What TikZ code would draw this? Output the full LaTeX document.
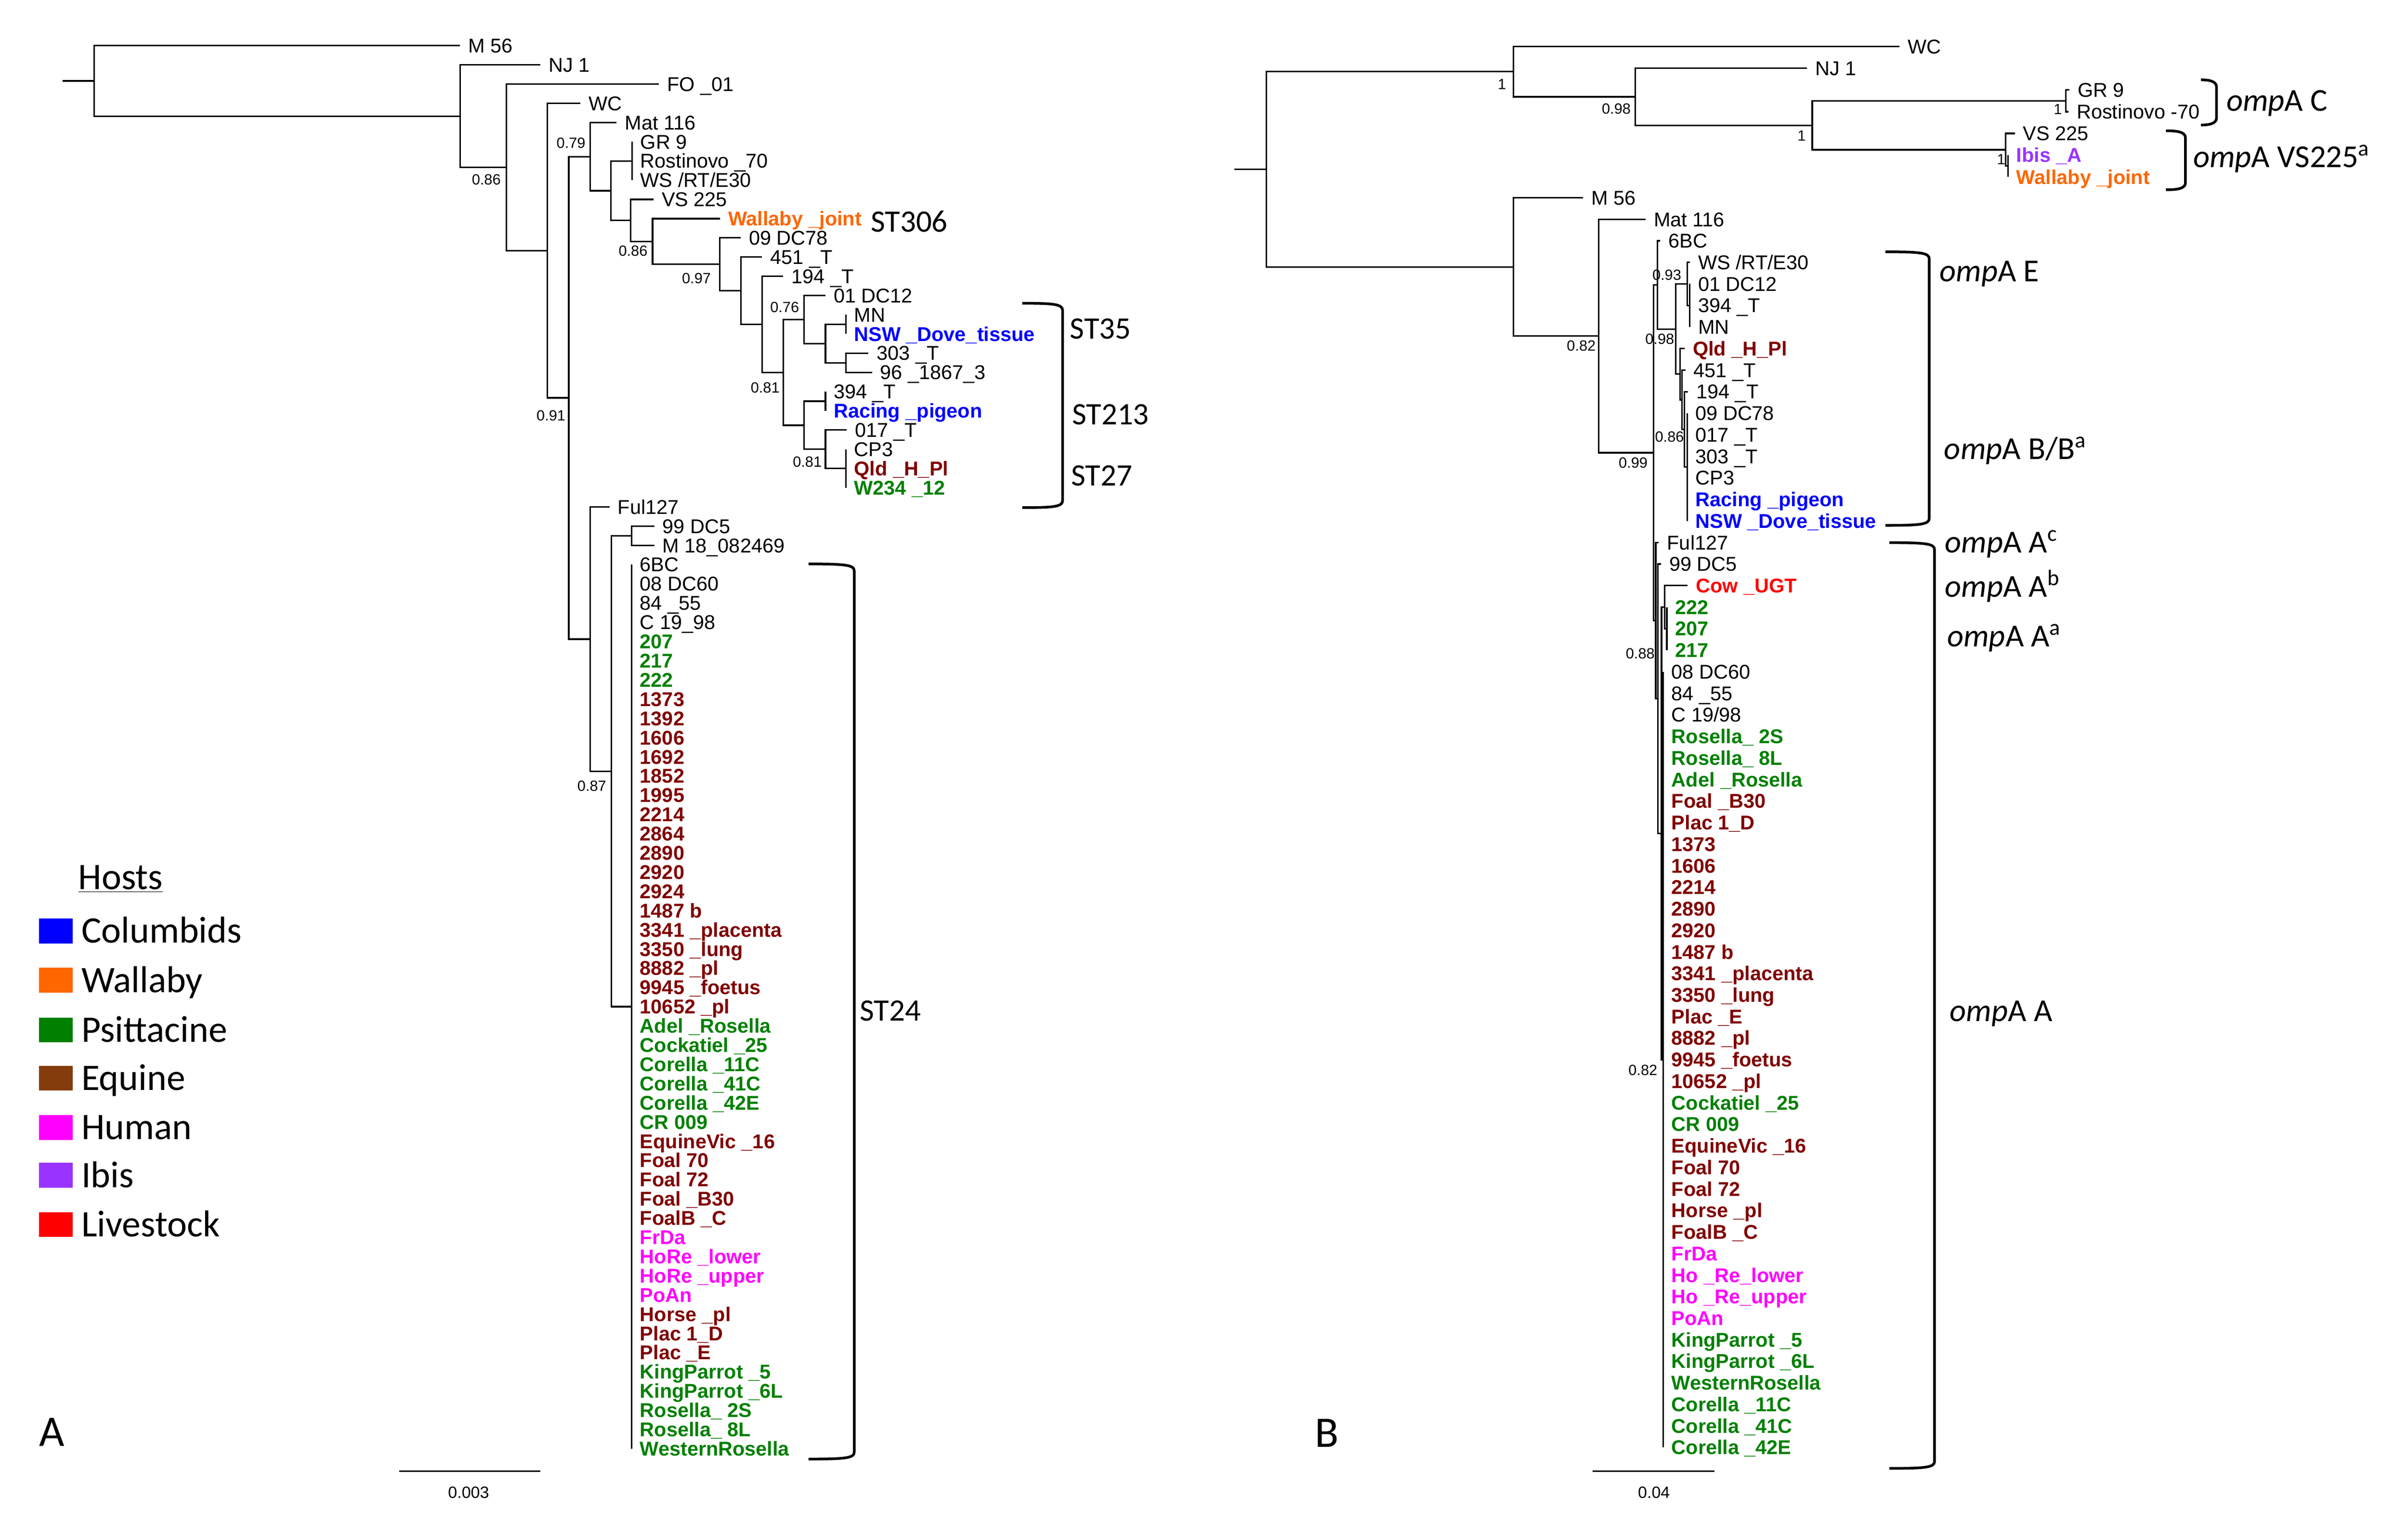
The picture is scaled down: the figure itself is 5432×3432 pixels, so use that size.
\documentclass[tikz,border=0pt]{standalone}
\usepackage{fontspec}
\setmainfont{Liberation Sans}
\newfontfamily\calfont{Carlito}
\definecolor{cB}{RGB}{0,0,255}
\definecolor{cO}{RGB}{255,102,0}
\definecolor{cG}{RGB}{0,128,0}
\definecolor{cE}{RGB}{128,0,0}
\definecolor{cEq}{RGB}{133,60,12}
\definecolor{cH}{RGB}{255,0,255}
\definecolor{cI}{RGB}{153,51,255}
\definecolor{cR}{RGB}{255,0,0}
\newcommand\labfont{\fontsize{12.8}{14}\selectfont}
\newcommand\leafnode[5]{\coordinate (#1) at (#2,#3); \node[#4] (#1l) at ({#2+18},{#3+16}) {#5};}
\newcommand\edg[2]{\draw[br] (#1) |- (#2);}
\newcommand\bracketpath[4]{\draw[bk] (#1,#3) .. controls ({#2-20},#3) and (#2,{#3+2}) .. (#2,{#3+16}) -- (#2,{#4-16}) .. controls (#2,{#4-2}) and ({#2-20},#4) .. (#1,#4);}
\tikzset{
  br/.style={line width=1pt},
  bk/.style={line width=1.7pt},
  lab/.style={inner sep=0pt, anchor=base west, font=\labfont},
  lk/.style={lab},
  lg/.style={lab, text=cG, font=\labfont\bfseries},
  le/.style={lab, text=cE, font=\labfont\bfseries},
  lb/.style={lab, text=cB, font=\labfont\bfseries},
  lo/.style={lab, text=cO, font=\labfont\bfseries},
  lh/.style={lab, text=cH, font=\labfont\bfseries},
  lp/.style={lab, text=cI, font=\labfont\bfseries},
  lr/.style={lab, text=cR, font=\labfont\bfseries},
  bs/.style={inner sep=0pt, font=\fontsize{9.5}{11}\selectfont},
  sc/.style={inner sep=0pt, font=\fontsize{10.5}{12}\selectfont},
  st/.style={inner sep=0pt, anchor=west, font=\calfont\fontsize{20}{24}\selectfont},
  om/.style={inner sep=0pt, anchor=base west, font=\calfont\fontsize{20.5}{24}\selectfont},
  legbox/.style={inner sep=0pt, minimum width=0.76cm, minimum height=0.56cm},
  legtxt/.style={inner sep=0pt, anchor=base west, font=\calfont\fontsize{24}{28}\selectfont},
  panel/.style={inner sep=0pt, font=\calfont\fontsize{28}{32}\selectfont},
}
\begin{document}
\begin{tikzpicture}[x=0.01cm,y=-0.01cm]
\useasboundingbox[fill=white] (0,0) rectangle (5432,3432);

% ================= PANEL A =================
\coordinate (rA0) at (141,182.5);
\coordinate (rA) at (212,182.5);
\draw[br] (rA0) -- (rA);
\leafnode{aM56}{1038}{103}{lk}{M 56}
\coordinate (nA1) at (1038,262.0);
\edg{rA}{aM56} \edg{rA}{nA1}
\leafnode{aNJ1}{1219}{146.4}{lk}{NJ 1}
\coordinate (nA2) at (1142,377.5);
\edg{nA1}{aNJ1} \edg{nA1}{nA2}
\leafnode{aFO}{1486}{189.7}{lk}{FO \_01}
\coordinate (nA3) at (1235,565.3);
\edg{nA2}{aFO} \edg{nA2}{nA3}
\leafnode{aWC}{1309}{233.1}{lk}{WC}
\coordinate (nA4) at (1283,897.4);
\edg{nA3}{aWC} \edg{nA3}{nA4}
\coordinate (nA5) at (1331,353.3);
\coordinate (nA20) at (1331,1441.5);
\edg{nA4}{nA5} \edg{nA4}{nA20}
\leafnode{aMat}{1391}{276.4}{lk}{Mat 116}
\coordinate (nA6) at (1378,430.2);
\edg{nA5}{aMat} \edg{nA5}{nA6}
\coordinate (nA7) at (1426,363.1);
\coordinate (nA8) at (1423,497.2);
\edg{nA6}{nA7} \edg{nA6}{nA8}
\leafnode{aGR}{1426}{319.8}{lk}{GR 9}
\leafnode{aRos}{1426}{363.1}{lk}{Rostinovo \_70}
\leafnode{aWS}{1426}{406.5}{lk}{WS /RT/E30}
\edg{nA7}{aGR} \edg{nA7}{aWS}
\leafnode{aVS}{1474}{449.8}{lk}{VS 225}
\coordinate (nA9) at (1472,544.7);
\edg{nA8}{aVS} \edg{nA8}{nA9}
\leafnode{aWal}{1624}{493.2}{lo}{Wallaby \_joint}
\coordinate (nA10) at (1624,596.1);
\edg{nA9}{aWal} \edg{nA9}{nA10}
\leafnode{a09}{1671}{536.5}{lk}{09 DC78}
\coordinate (nA11) at (1671,655.8);
\edg{nA10}{a09} \edg{nA10}{nA11}
\leafnode{a451}{1719}{579.9}{lk}{451 \_T}
\coordinate (nA12) at (1719,731.6);
\edg{nA11}{a451} \edg{nA11}{nA12}
\leafnode{a194}{1767}{623.2}{lk}{194 \_T}
\coordinate (nA13) at (1767,840.0);
\edg{nA12}{a194} \edg{nA12}{nA13}
\coordinate (nA14) at (1814,720.8);
\coordinate (nA17) at (1814,959.2);
\edg{nA13}{nA14} \edg{nA13}{nA17}
\leafnode{a01}{1862}{666.6}{lk}{01 DC12}
\coordinate (nA15) at (1862,775.0);
\edg{nA14}{a01} \edg{nA14}{nA15}
\coordinate (nA16a) at (1908,731.6);
\coordinate (nA16b) at (1908,818.3);
\edg{nA15}{nA16a} \edg{nA15}{nA16b}
\leafnode{aMN}{1908}{709.9}{lk}{MN}
\leafnode{aNSW}{1908}{753.3}{lb}{NSW \_Dove\_tissue}
\edg{nA16a}{aMN} \edg{nA16a}{aNSW}
\leafnode{a303}{1959}{796.6}{lk}{303 \_T}
\leafnode{a96}{1967}{840.0}{lk}{96 \_1867\_3}
\edg{nA16b}{a303} \edg{nA16b}{a96}
\coordinate (nA18) at (1862,905.0);
\coordinate (nA19) at (1862,1013.4);
\edg{nA17}{nA18} \edg{nA17}{nA19}
\leafnode{a394}{1862}{883.3}{lk}{394 \_T}
\leafnode{aRac}{1862}{926.7}{lb}{Racing \_pigeon}
\edg{nA18}{a394} \edg{nA18}{aRac}
\leafnode{a017}{1910}{970.0}{lk}{017 \_T}
\coordinate (nA19p) at (1908,1056.7);
\edg{nA19}{a017} \edg{nA19}{nA19p}
\leafnode{aCP3}{1908}{1013.4}{lk}{CP3}
\leafnode{aQld}{1908}{1056.7}{le}{Qld \_H\_Pl}
\leafnode{aW234}{1908}{1100.1}{lg}{W234 \_12}
\edg{nA19p}{aCP3} \edg{nA19p}{aW234}
% lower clade
\leafnode{aFul}{1375}{1143.4}{lk}{Ful127}
\coordinate (nA21) at (1379,1739.5);
\edg{nA20}{aFul} \edg{nA20}{nA21}
\coordinate (nA22) at (1425,1208.5);
\coordinate (nA23) at (1425,2270.6);
\edg{nA21}{nA22} \edg{nA21}{nA23}
\leafnode{a99}{1476}{1186.8}{lk}{99 DC5}
\leafnode{aM18}{1476}{1230.1}{lk}{M 18\_082469}
\edg{nA22}{a99} \edg{nA22}{aM18}
\foreach \s/\t [count=\k from 0] in {lk/6BC, lk/08 DC60, lk/84 \_55, lk/C 19\_98, lg/207, lg/217, lg/222,
  le/1373, le/1392, le/1606, le/1692, le/1852, le/1995, le/2214, le/2864, le/2890, le/2920, le/2924, le/1487 b,
  le/3341 \_placenta, le/3350 \_lung, le/8882 \_pl, le/9945 \_foetus, le/10652 \_pl,
  lg/Adel \_Rosella, lg/Cockatiel \_25, lg/Corella \_11C, lg/Corella \_41C, lg/Corella \_42E, lg/CR 009,
  le/EquineVic \_16, le/Foal 70, le/Foal 72, le/Foal \_B30, le/FoalB \_C,
  lh/FrDa, lh/HoRe \_lower, lh/HoRe \_upper, lh/PoAn,
  le/Horse \_pl, le/Plac 1\_D, le/Plac \_E,
  lg/KingParrot \_5, lg/KingParrot \_6L, lg/Rosella\_ 2S, lg/Rosella\_ 8L, lg/WesternRosella}
{
  \coordinate (aP\k) at (1425,{1273.5+43.35*\k});
  \draw[br] (nA23) |- (aP\k);
  \node[\s] (aP\k l) at (1443,{1273.5+43.35*\k+16}) {\t};
}
% bootstrap A
\node[bs] (bA1) at (1097,405) {0.86};
\node[bs] (bA2) at (1288,323) {0.79};
\node[bs] (bA3) at (1243,937) {0.91};
\node[bs] (bA4) at (1428,566) {0.86};
\node[bs] (bA5) at (1571,628) {0.97};
\node[bs] (bA6) at (1770,693) {0.76};
\node[bs] (bA7) at (1726,874) {0.81};
\node[bs] (bA8) at (1821,1042) {0.81};
\node[bs] (bA9) at (1335,1773) {0.87};
% ST labels and brackets
\node[st] (st306) at (1964,500) {ST306};
\bracketpath{2306}{2397}{684}{1145}
\node[st] (st35) at (2413,742) {ST35};
\node[st] (st213) at (2418,935) {ST213};
\node[st] (st27) at (2416,1073) {ST27};
\bracketpath{1824}{1927}{1272}{3291}
\node[st] (st24) at (1939,2280) {ST24};
% scale A
\coordinate (sA1) at (901,3318);
\coordinate (sA2) at (1219,3318);
\draw[line width=1pt] (sA1) -- (sA2);
\node[sc] (sAl) at (1057,3367) {0.003};
\node[panel] (pA) at (117,3230) {A};

% legend
\node[inner sep=0pt, font=\calfont\fontsize{24}{28}\selectfont] (hosts) at (272,1983) {\underline{Hosts}};
\node[legbox, fill=cB] (kB) at (126,2100) {};
\node[legtxt] (kBt) at (183,2127) {Columbids};
\node[legbox, fill=cO] (kO) at (126,2211) {};
\node[legtxt] (kOt) at (183,2238) {Wallaby};
\node[legbox, fill=cG] (kG) at (126,2323) {};
\node[legtxt] (kGt) at (183,2350) {Psittacine};
\node[legbox, fill=cEq] (kE) at (126,2432) {};
\node[legtxt] (kEt) at (183,2459) {Equine};
\node[legbox, fill=cH] (kH) at (126,2543) {};
\node[legtxt] (kHt) at (183,2570) {Human};
\node[legbox, fill=cI] (kI) at (126,2651) {};
\node[legtxt] (kIt) at (183,2678) {Ibis};
\node[legbox, fill=cR] (kR) at (126,2762) {};
\node[legtxt] (kRt) at (183,2789) {Livestock};

% ================= PANEL B =================
\coordinate (rB0) at (2784,381.9);
\coordinate (rB) at (2857,381.9);
\draw[br] (rB0) -- (rB);
\coordinate (nB0) at (3414,161.7);
\coordinate (nBL) at (3414,602.0);
\edg{rB}{nB0} \edg{rB}{nBL}
\leafnode{bWC}{4285}{105}{lk}{WC}
\coordinate (nB1) at (3689,218.3);
\edg{nB0}{bWC} \edg{nB0}{nB1}
\leafnode{bNJ1}{4076}{154}{lk}{NJ 1}
\coordinate (nB2) at (4088,282.6);
\edg{nB1}{bNJ1} \edg{nB1}{nB2}
\coordinate (nB3) at (4660,227.5);
\coordinate (nB4) at (4524,337.8);
\edg{nB2}{nB3} \edg{nB2}{nB4}
\leafnode{bGR}{4668}{203}{lk}{GR 9}
\leafnode{bRos}{4666}{252}{lk}{Rostinovo -70}
\edg{nB3}{bGR} \edg{nB3}{bRos}
\leafnode{bVS}{4545}{301}{lk}{VS 225}
\coordinate (nB5) at (4530,374.5);
\edg{nB4}{bVS} \edg{nB4}{nB5}
\leafnode{bIbis}{4530}{350}{lp}{Ibis \_A}
\leafnode{bWal}{4530}{399}{lo}{Wallaby \_joint}
\edg{nB5}{bIbis} \edg{nB5}{bWal}
\leafnode{bM56}{3571}{446.0}{lk}{M 56}
\coordinate (nBm) at (3606,758.0);
\edg{nBL}{bM56} \edg{nBL}{nBm}
\leafnode{bMat}{3712}{494.6}{lk}{Mat 116}
\coordinate (nN1) at (3730,1021.3);
\edg{nBm}{bMat} \edg{nBm}{nN1}
\coordinate (nN2) at (3739,642.7);
\coordinate (nQ1) at (3735,1399.8);
\edg{nN1}{nN2} \edg{nN1}{nQ1}
\leafnode{b6BC}{3745}{543.2}{lk}{6BC}
\coordinate (nN3) at (3780,742.2);
\edg{nN2}{b6BC} \edg{nN2}{nN3}
\coordinate (nN4) at (3806,640.4);
\coordinate (nN6) at (3790,843.9);
\edg{nN3}{nN4} \edg{nN3}{nN6}
\leafnode{bWS}{3812}{591.8}{lk}{WS /RT/E30}
\coordinate (nN5) at (3812,689.0);
\edg{nN4}{bWS} \edg{nN4}{nN5}
\leafnode{b01}{3812}{640.4}{lk}{01 DC12}
\leafnode{b394}{3812}{689.0}{lk}{394 \_T}
\leafnode{bMN}{3812}{737.6}{lk}{MN}
\edg{nN5}{b01} \edg{nN5}{bMN}
\leafnode{bQld}{3800}{786.2}{le}{Qld \_H\_Pl}
\coordinate (nN7) at (3794,901.6);
\edg{nN6}{bQld} \edg{nN6}{nN7}
\leafnode{b451}{3802}{834.8}{lk}{451 \_T}
\coordinate (nN8) at (3800,968.5);
\edg{nN7}{b451} \edg{nN7}{nN8}
\leafnode{b194}{3808}{883.4}{lk}{194 \_T}
\coordinate (nN9) at (3806,1053.5);
\edg{nN8}{b194} \edg{nN8}{nN9}
\leafnode{b09}{3806}{932.0}{lk}{09 DC78}
\leafnode{b017}{3806}{980.6}{lk}{017 \_T}
\leafnode{b303}{3806}{1029.2}{lk}{303 \_T}
\leafnode{bCP3}{3806}{1077.8}{lk}{CP3}
\leafnode{bRac}{3806}{1126.4}{lb}{Racing \_pigeon}
\leafnode{bNSW}{3806}{1175.0}{lb}{NSW \_Dove\_tissue}
\edg{nN9}{b09} \edg{nN9}{bNSW}
% A clade
\leafnode{bFul}{3742}{1223.6}{lk}{Ful127}
\coordinate (nQ2) at (3740,1576.0);
\edg{nQ1}{bFul} \edg{nQ1}{nQ2}
\leafnode{b99}{3747}{1272.2}{lk}{99 DC5}
\coordinate (nQ3) at (3748,1879.7);
\edg{nQ2}{b99} \edg{nQ2}{nQ3}
\coordinate (nQ4) at (3755,1369.4);
\coordinate (nP) at (3752,2390.0);
\edg{nQ3}{nQ4} \edg{nQ3}{nP}
\leafnode{bCow}{3807}{1320.8}{lr}{Cow \_UGT}
\coordinate (nQ5) at (3760,1418.0);
\edg{nQ4}{bCow} \edg{nQ4}{nQ5}
\leafnode{b222}{3760}{1369.4}{lg}{222}
\leafnode{b207}{3760}{1418.0}{lg}{207}
\leafnode{b217}{3760}{1466.6}{lg}{217}
\edg{nQ5}{b222} \edg{nQ5}{b217}
\foreach \s/\t [count=\k from 22] in {lk/08 DC60, lk/84 \_55, lk/{C 19/98},
  lg/Rosella\_ 2S, lg/Rosella\_ 8L, lg/Adel \_Rosella,
  le/Foal \_B30, le/Plac 1\_D, le/1373, le/1606, le/2214, le/2890, le/2920, le/1487 b,
  le/3341 \_placenta, le/3350 \_lung, le/Plac \_E, le/8882 \_pl, le/9945 \_foetus, le/10652 \_pl,
  lg/Cockatiel \_25, lg/CR 009,
  le/EquineVic \_16, le/Foal 70, le/Foal 72, le/Horse \_pl, le/FoalB \_C,
  lh/FrDa, lh/Ho \_Re\_lower, lh/Ho \_Re\_upper, lh/PoAn,
  lg/KingParrot \_5, lg/KingParrot \_6L, lg/WesternRosella, lg/Corella \_11C, lg/Corella \_41C, lg/Corella \_42E}
{
  \coordinate (bP\k) at (3752,{446+48.6*\k});
  \draw[br] (nP) |- (bP\k);
  \node[\s] (bP\k l) at (3770,{446+48.6*\k+16}) {\t};
}
% bootstrap B
\node[bs] (bB1) at (3388,190) {1};
\node[bs] (bB2) at (3646,245) {0.98};
\node[bs] (bB3) at (4064,306) {1};
\node[bs] (bB4) at (4642,246) {1};
\node[bs] (bB5) at (4514,360) {1};
\node[bs] (bB6) at (3567,780) {0.82};
\node[bs] (bB7) at (3684,1044) {0.99};
\node[bs] (bB8) at (3760,620) {0.93};
\node[bs] (bB9) at (3744,765) {0.98};
\node[bs] (bB10) at (3766,985) {0.86};
\node[bs] (bB11) at (3700,1474) {0.88};
\node[bs] (bB12) at (3706,2414) {0.82};
% ompA brackets and labels
\bracketpath{4965}{5000}{180}{282}
\node[om] (oC) at (5022,250) {\textit{omp}A C};
\bracketpath{4886}{4930}{295}{428}
\node[om] (oVS) at (4947,378) {\textit{omp}A VS225\textsuperscript{a}};
\bracketpath{4253}{4352}{568}{1185}
\node[om] (oE) at (4375,635) {\textit{omp}A E};
\node[om] (oBB) at (4385,1036) {\textit{omp}A B/B\textsuperscript{a}};
\bracketpath{4262}{4364}{1224}{3312}
\node[om] (oAc) at (4387,1247) {\textit{omp}A A\textsuperscript{c}};
\node[om] (oAb) at (4387,1347) {\textit{omp}A A\textsuperscript{b}};
\node[om] (oAa) at (4392,1459) {\textit{omp}A A\textsuperscript{a}};
\node[om] (oA) at (4398,2304) {\textit{omp}A A};
% scale B
\coordinate (sB1) at (3593,3318);
\coordinate (sB2) at (3867,3318);
\draw[line width=1pt] (sB1) -- (sB2);
\node[sc] (sBl) at (3731,3367) {0.04};
\node[panel] (pB) at (2993,3232) {B};
\end{tikzpicture}
\end{document}
